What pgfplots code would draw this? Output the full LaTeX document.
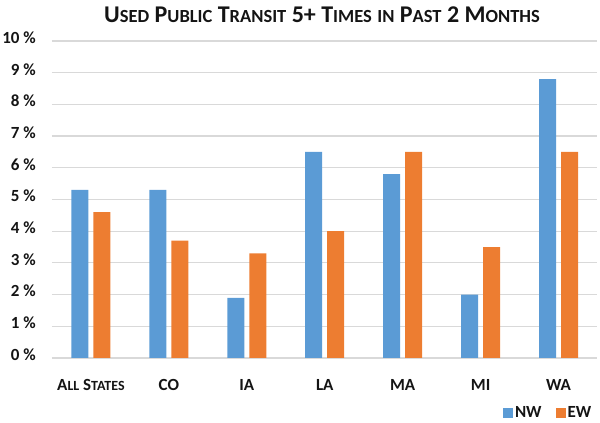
\documentclass[border=0pt]{standalone}
\usepackage{pgfplots}
\pgfplotsset{compat=1.18}
\usepackage{fontspec}
\setmainfont{Carlito}
\definecolor{nw}{HTML}{5B9BD5}
\definecolor{ew}{HTML}{ED7D31}
\definecolor{grd}{HTML}{D9D9D9}
\definecolor{txt}{HTML}{141414}
\newcommand\T[2]{{\fontsize{24bp}{24bp}\selectfont#1}{\fontsize{18.5bp}{18.5bp}\selectfont#2}}
\newcommand\Ls[2]{{\fontsize{17bp}{17bp}\selectfont#1}{\fontsize{14bp}{14bp}\selectfont#2}}
\begin{document}
\begin{tikzpicture}
\path[use as bounding box] (0,0) rectangle (600bp,423bp);
\begin{axis}[at={(52bp,65bp)}, anchor=south west, scale only axis,
  width=545.5bp, height=317bp,
  ybar=5bp, bar width=17bp,
  xmin=-0.5, xmax=6.5, ymin=0, ymax=10,
  xtick={0,...,6},
  xticklabels={\Ls{A}{LL} \Ls{S}{TATES},CO,IA,LA,MA,MI,WA},
  ytick={0,...,10},
  yticklabels={0 \%,1 \%,2 \%,3 \%,4 \%,5 \%,6 \%,7 \%,8 \%,9 \%,10 \%},
  ymajorgrids, grid style={grd, line width=1.2bp},
  axis line style={draw=none}, tick style={draw=none},
  xticklabel style={font=\bfseries\fontsize{17bp}{17bp}\selectfont, text=txt, inner sep=0pt, anchor=base, yshift=-28.7bp},
  yticklabel style={font=\bfseries\fontsize{17bp}{17bp}\selectfont, text=txt, inner sep=0pt, anchor=mid east, xshift=-16bp},
  legend style={at={(1,0)}, anchor=east, xshift=-4bp, yshift=-55bp, draw=none, fill=none, inner sep=0pt,
    legend columns=2, font=\bfseries\fontsize{17bp}{17bp}\selectfont, text=txt,
    /tikz/every even column/.append style={column sep=12bp}},
  legend image code/.code={\fill[#1] (0bp,-5bp) rectangle (10bp,5bp);},
]
\addplot[fill=nw, draw=none] coordinates {(0,5.3) (1,5.3) (2,1.9) (3,6.5) (4,5.8) (5,2.0) (6,8.8)};
\addplot[fill=ew, draw=none] coordinates {(0,4.6) (1,3.7) (2,3.3) (3,4.0) (4,6.5) (5,3.5) (6,6.5)};
\legend{NW,EW}
\end{axis}
\node[anchor=base, text=txt, font=\bfseries\fontsize{24bp}{24bp}\selectfont, inner sep=0pt] at (322bp,400bp)
  {\T{U}{SED} \T{P}{UBLIC} \T{T}{RANSIT} \T{5+ T}{IMES} \T{}{IN} \T{P}{AST} \T{2 M}{ONTHS}};
\end{tikzpicture}
\end{document}
